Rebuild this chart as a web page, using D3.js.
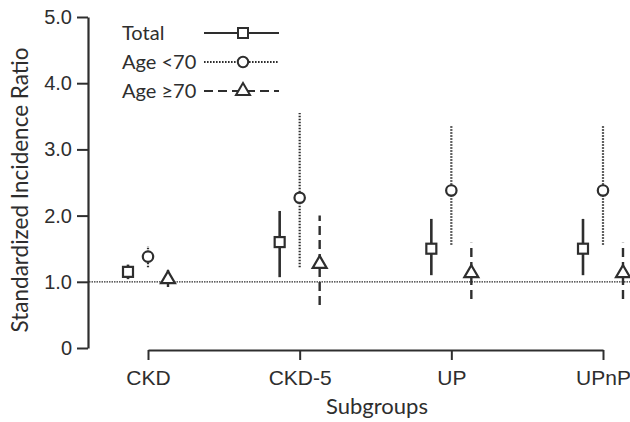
<!DOCTYPE html>
<html>
<head>
<meta charset="utf-8">
<script src="https://cdn.jsdelivr.net/npm/d3@7"></script>
<style>
  body { margin: 0; background: #fff; }
  svg { display: block; font-family: Lato, "Open Sans", sans-serif; }
</style>
</head>
<body>
<svg id="chart" width="630" height="422"></svg>
<script>
const categories = ["CKD", "CKD-5", "UP", "UPnP"];
const yTicks = [0, 1, 2, 3, 4, 5];

// SIR point estimates and 95% CI per subgroup
const totalSIR = [1.15, 1.60, 1.50, 1.50];
const totalLow = [1.04, 1.07, 1.10, 1.10];
const totalHigh = [1.26, 2.07, 1.95, 1.95];

const under70SIR = [1.38, 2.27, 2.38, 2.38];
const under70Low = [1.22, 1.22, 1.56, 1.56];
const under70High = [1.54, 3.55, 3.35, 3.35];

const over70SIR = [1.04, 1.27, 1.13, 1.13];
const over70Low = [0.92, 0.65, 0.74, 0.74];
const over70High = [1.18, 2.00, 1.59, 1.59];

const ink = "#2e2e2e";

const series = [
    { name: "Total", sir: totalSIR, low: totalLow, high: totalHigh, offset: -20, dash: null, width: 2.6, marker: "square" },
    { name: "Age <70", sir: under70SIR, low: under70Low, high: under70High, offset: 0, dash: "1.6,1.4", width: 2.2, marker: "circle" },
    { name: "Age \u226570", sir: over70SIR, low: over70Low, high: over70High, offset: 20, dash: "9,5", width: 2.4, marker: "triangle" }
];

const svg = d3.select("#chart");

const y = d3.scaleLinear().domain([0, 5]).range([348, 17]);
const x = d3.scalePoint().domain(categories).range([148, 603]).padding(0);

// Y axis
const yAxis = svg.append("g")
    .attr("transform", "translate(88,0)")
    .call(d3.axisLeft(y)
        .tickValues(yTicks)
        .tickSize(11)
        .tickSizeOuter(0)
        .tickPadding(5)
        .tickFormat(d => d === 0 ? "0" : d3.format(".1f")(d)));

// X axis, offset below
const xAxis = svg.append("g")
    .attr("transform", "translate(0,350)")
    .call(d3.axisBottom(x).tickSize(10).tickSizeOuter(0).tickPadding(10));

[yAxis, xAxis].forEach(ax => {
    ax.select(".domain").attr("stroke", ink).attr("stroke-width", 2.2);
    ax.selectAll(".tick line").attr("stroke", ink).attr("stroke-width", 2);
    ax.selectAll(".tick text").attr("fill", ink).style("font-size", "20px");
});
xAxis.selectAll(".tick text").style("font-size", "21px");

// Axis titles
svg.append("text")
    .attr("transform", "translate(28,190) rotate(-90)")
    .attr("text-anchor", "middle")
    .attr("fill", ink)
    .style("font-size", "22.5px")
    .text("Standardized Incidence Ratio");

svg.append("text")
    .attr("x", 377)
    .attr("y", 414)
    .attr("text-anchor", "middle")
    .attr("fill", ink)
    .style("font-size", "22px")
    .text("Subgroups");

// Reference line at SIR = 1
svg.append("line")
    .attr("x1", 89).attr("x2", 630)
    .attr("y1", y(1)).attr("y2", y(1))
    .attr("stroke", ink)
    .attr("stroke-width", 1.2)
    .attr("stroke-dasharray", "1.5,1");

function drawMarker(g, type, cx, cy) {
    if (type === "square") {
        g.append("rect")
            .attr("x", cx - 5).attr("y", cy - 5)
            .attr("width", 10).attr("height", 10);
    } else if (type === "circle") {
        g.append("circle").attr("cx", cx).attr("cy", cy).attr("r", 5.2);
    } else {
        g.append("path")
            .attr("d", `M${cx},${cy - 8}L${cx + 7},${cy + 4}L${cx - 7},${cy + 4}Z`);
    }
}

// Error bars and markers
series.forEach(s => {
    const g = svg.append("g");
    g.selectAll("line")
        .data(categories)
        .enter().append("line")
        .attr("x1", (d, i) => x(d) + s.offset)
        .attr("x2", (d, i) => x(d) + s.offset)
        .attr("y1", (d, i) => y(s.low[i]))
        .attr("y2", (d, i) => y(s.high[i]))
        .attr("stroke", ink)
        .attr("stroke-width", s.width)
        .attr("stroke-dasharray", s.dash);

    const m = g.append("g")
        .attr("fill", "#fff")
        .attr("stroke", ink)
        .attr("stroke-width", 2.2);
    categories.forEach((c, i) => drawMarker(m, s.marker, x(c) + s.offset, y(s.sir[i])));
});

// Legend
const legend = svg.append("g");
series.forEach((s, i) => {
    const ly = 33 + i * 29;
    legend.append("text")
        .attr("x", 122)
        .attr("y", ly + 7)
        .attr("fill", ink)
        .style("font-size", "20px")
        .text(s.name);
    legend.append("line")
        .attr("x1", 204).attr("x2", 279)
        .attr("y1", ly).attr("y2", ly)
        .attr("stroke", ink)
        .attr("stroke-width", s.marker === "circle" ? 1.8 : 2.2)
        .attr("stroke-dasharray", s.dash);
    const m = legend.append("g")
        .attr("fill", "#fff")
        .attr("stroke", ink)
        .attr("stroke-width", 2);
    drawMarker(m, s.marker, 243, ly);
});
</script>
</body>
</html>
